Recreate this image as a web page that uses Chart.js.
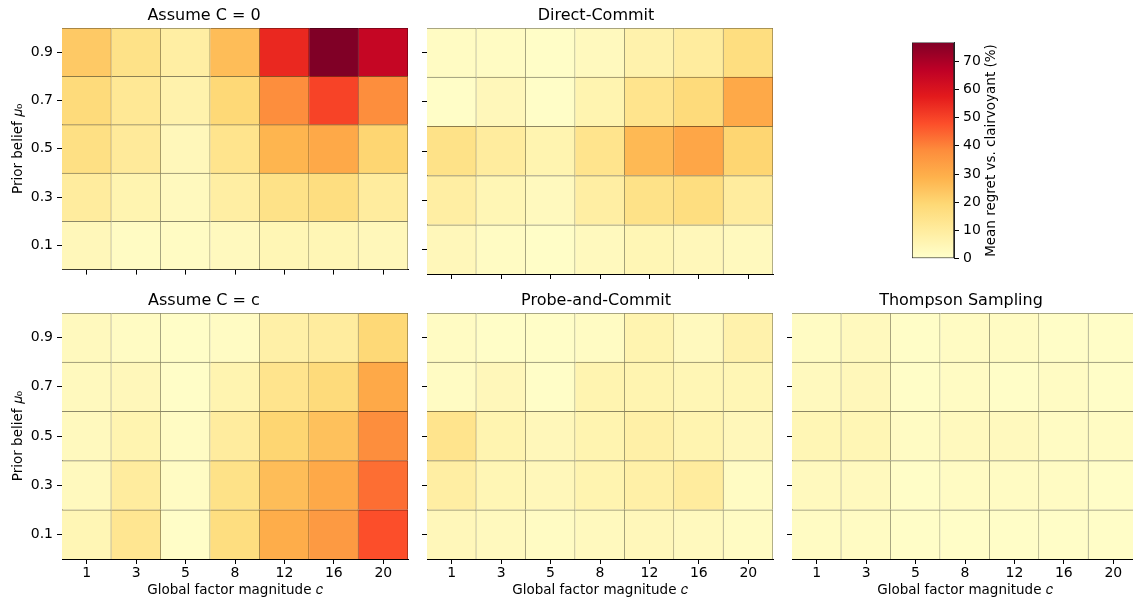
<!DOCTYPE html>
<html>
<head>
<meta charset="utf-8">
<script src="https://cdn.jsdelivr.net/npm/chart.js@4.4.1/dist/chart.umd.min.js"></script>
<style>
  html, body { margin: 0; padding: 0; background: #fff; overflow: hidden; width: 1133px; height: 602px; }
  .panel { position: absolute; }
</style>
</head>
<body>
<div id="wrap"></div>
<script>
const cValues = ['1', '3', '5', '8', '12', '16', '20'];
const muValues = ['0.1', '0.3', '0.5', '0.7', '0.9'];
const cbTicks = [0, 10, 20, 30, 40, 50, 60, 70];

// rows go from mu = 0.1 (first) up to mu = 0.9 (last), columns follow cValues
const assumeZero = [
  [4, 2, 2, 3, 5, 5, 4],
  [10, 6, 3, 9, 15, 17, 10],
  [16, 11, 4, 14, 28, 31, 20],
  [18, 12, 7, 19, 38, 50, 38],
  [23, 15, 9, 26, 55, 76.7, 65]
];
const directCommit = [
  [4, 2, 1, 3, 5, 4, 3],
  [9, 5, 3, 9, 15, 17, 10],
  [15, 10, 6, 14, 27, 32, 20],
  [1, 4, 1, 6, 14, 18, 31],
  [2, 2, 1, 3, 7, 10, 17]
];
const assumeC = [
  [5, 13, 1, 17, 30, 35, 48],
  [3, 10, 2, 15, 26, 31, 43],
  [3, 6, 2, 10, 20, 25, 38],
  [3, 4, 1, 6, 14, 18, 31],
  [3, 2, 1, 2, 8, 10, 19]
];
const probeCommit = [
  [4, 3, 2, 3, 4, 3, 2],
  [9, 5, 4, 6, 8, 10, 2],
  [14, 6, 4, 6, 8, 6, 4],
  [2, 4, 1, 6, 6, 5, 5],
  [2, 1, 1, 2, 6, 3, 7]
];
const thompson = [
  [2, 2, 1, 1, 1, 1, 1],
  [3, 3, 1, 2, 2, 2, 1],
  [5, 5, 2, 3, 3, 2, 2],
  [3, 4, 1, 2, 1, 2, 1],
  [2, 3, 1, 2, 2, 1, 1]
];

const vmax = Math.max(...[assumeZero, directCommit, assumeC, probeCommit, thompson].flat(2));

const ylOrRd = [
  [255, 255, 204], [255, 237, 160], [254, 217, 118], [254, 178, 76], [253, 141, 60],
  [252, 78, 42], [227, 26, 28], [189, 0, 38], [128, 0, 38]
];

function cmap(v, k) {
  const t = Math.min(Math.max(v / vmax, 0), 1) * (ylOrRd.length - 1);
  const i = Math.min(Math.floor(t), ylOrRd.length - 2);
  const f = t - i;
  const rgb = ylOrRd[i].map((a, j) => Math.round((a + (ylOrRd[i + 1][j] - a) * f) * k));
  return `rgb(${rgb.join(',')})`;
}

const FONT = 'DejaVu Sans';
const INK = '#000';
const TICK = 14;
const LABEL = 13.5;
const colLeft = [62, 427, 792];
const rowTop = [28, 313];
const plotW = 346;
const plotH = 246;

const panels = [
  { title: 'Assume C = 0', values: assumeZero, col: 0, row: 0 },
  { title: 'Direct-Commit', values: directCommit, col: 1, row: 0 },
  { title: 'Assume C = c', values: assumeC, col: 0, row: 1 },
  { title: 'Probe-and-Commit', values: probeCommit, col: 1, row: 1 },
  { title: 'Thompson Sampling', values: thompson, col: 2, row: 1 }
];

function addCanvas(left, top, w, h) {
  const div = document.createElement('div');
  div.className = 'panel';
  div.style.left = left + 'px';
  div.style.top = top + 'px';
  const cv = document.createElement('canvas');
  cv.width = w;
  cv.height = h;
  div.appendChild(cv);
  document.getElementById('wrap').appendChild(div);
  return cv;
}

function makeHeatmap(p) {
  const padL = p.col === 0 ? 62 : 8;
  const padT = 28;
  const padR = 4;
  const padB = p.row === 1 ? 44 : 8;
  const cv = addCanvas(colLeft[p.col] - padL, rowTop[p.row] - padT, plotW + padL + padR, plotH + padT + padB);

  const datasets = muValues.map((mu, r) => ({
    label: mu,
    data: cValues.map(() => [r, r + 1]),
    backgroundColor: p.values[r].map(v => cmap(v, 1)),
    borderColor: p.values[r].map(v => cmap(v, 0.55)),
    borderWidth: { top: 1, right: 1, bottom: 0, left: 0 },
    borderSkipped: false,
    grouped: false,
    barPercentage: 1,
    categoryPercentage: 1
  }));

  new Chart(cv, {
    type: 'bar',
    data: { labels: cValues, datasets: datasets },
    options: {
      responsive: false,
      animation: false,
      layout: { padding: { left: 0, right: padR, top: 0, bottom: 0 } },
      plugins: {
        legend: { display: false },
        tooltip: { enabled: false },
        title: {
          display: true,
          text: p.title,
          color: INK,
          font: { family: FONT, size: 16, weight: 'normal' },
          padding: { top: 6, bottom: 2.8 }
        }
      },
      scales: {
        x: {
          type: 'category',
          offset: true,
          ticks: { display: p.row === 1, color: INK, padding: 1, font: { family: FONT, size: TICK } },
          grid: { offset: false, drawOnChartArea: false, color: INK, tickLength: 5, tickWidth: 1 },
          border: { display: true, color: INK, width: 1 },
          title: {
            display: p.row === 1,
            text: 'Global factor magnitude 𝑐',
            color: INK,
            font: { family: FONT, size: LABEL },
            padding: { top: 0, bottom: 4 }
          },
          afterFit: s => { s.height = padB; }
        },
        y: {
          type: 'linear',
          min: 0,
          max: muValues.length,
          afterBuildTicks: s => { s.ticks = muValues.map((m, i) => ({ value: i + 0.5 })); },
          ticks: {
            display: p.col === 0,
            color: INK,
            padding: 4,
            font: { family: FONT, size: TICK },
            callback: (v, i) => muValues[i]
          },
          grid: { drawOnChartArea: false, color: INK, tickLength: 5, tickWidth: 1 },
          border: { display: true, color: INK, width: 1 },
          title: {
            display: p.col === 0,
            text: 'Prior belief 𝜇₀',
            color: INK,
            font: { family: FONT, size: LABEL },
            padding: { top: 10, bottom: 0 }
          },
          afterFit: s => { s.width = padL; }
        }
      }
    }
  });
}

// colorbar label reads bottom-to-top, like matplotlib
const cbLabel = {
  id: 'cbLabel',
  afterDraw(chart) {
    const a = chart.chartArea;
    const ctx = chart.ctx;
    ctx.save();
    ctx.translate(a.right + 37, (a.top + a.bottom) / 2);
    ctx.rotate(-Math.PI / 2);
    ctx.fillStyle = INK;
    ctx.font = `${LABEL}px "${FONT}"`;
    ctx.textAlign = 'center';
    ctx.textBaseline = 'middle';
    ctx.fillText('Mean regret vs. clairvoyant (%)', 0, 0);
    ctx.restore();
  }
};

function makeColorbar() {
  const left = 912, top = 40, w = 42, h = 221;
  const axisW = 62;
  const cv = addCanvas(left, top - 10, w + axisW, h + 20);
  new Chart(cv, {
    type: 'bar',
    data: {
      labels: [''],
      datasets: [{
        data: [[0, vmax]],
        backgroundColor: ctx => {
          const a = ctx.chart.chartArea;
          if (!a) return null;
          const g = ctx.chart.ctx.createLinearGradient(0, a.bottom, 0, a.top);
          ylOrRd.forEach((c, i) => g.addColorStop(i / (ylOrRd.length - 1), `rgb(${c.join(',')})`));
          return g;
        },
        borderColor: '#222',
        borderWidth: 1,
        borderSkipped: false,
        barPercentage: 1,
        categoryPercentage: 1
      }]
    },
    options: {
      responsive: false,
      animation: false,
      layout: { padding: { left: 0, right: 0, top: 10, bottom: 10 } },
      plugins: { legend: { display: false }, tooltip: { enabled: false } },
      scales: {
        x: { display: false, offset: true },
        y: {
          position: 'right',
          min: 0,
          max: vmax,
          afterBuildTicks: s => { s.ticks = cbTicks.map(v => ({ value: v })); },
          ticks: { color: INK, padding: 4, font: { family: FONT, size: TICK } },
          grid: { drawOnChartArea: false, color: INK, tickLength: 5, tickWidth: 1 },
          border: { display: true, color: '#222', width: 1 },
          afterFit: s => { s.width = axisW; }
        }
      }
    },
    plugins: [cbLabel]
  });
}

panels.forEach(makeHeatmap);
makeColorbar();
</script>
</body>
</html>
